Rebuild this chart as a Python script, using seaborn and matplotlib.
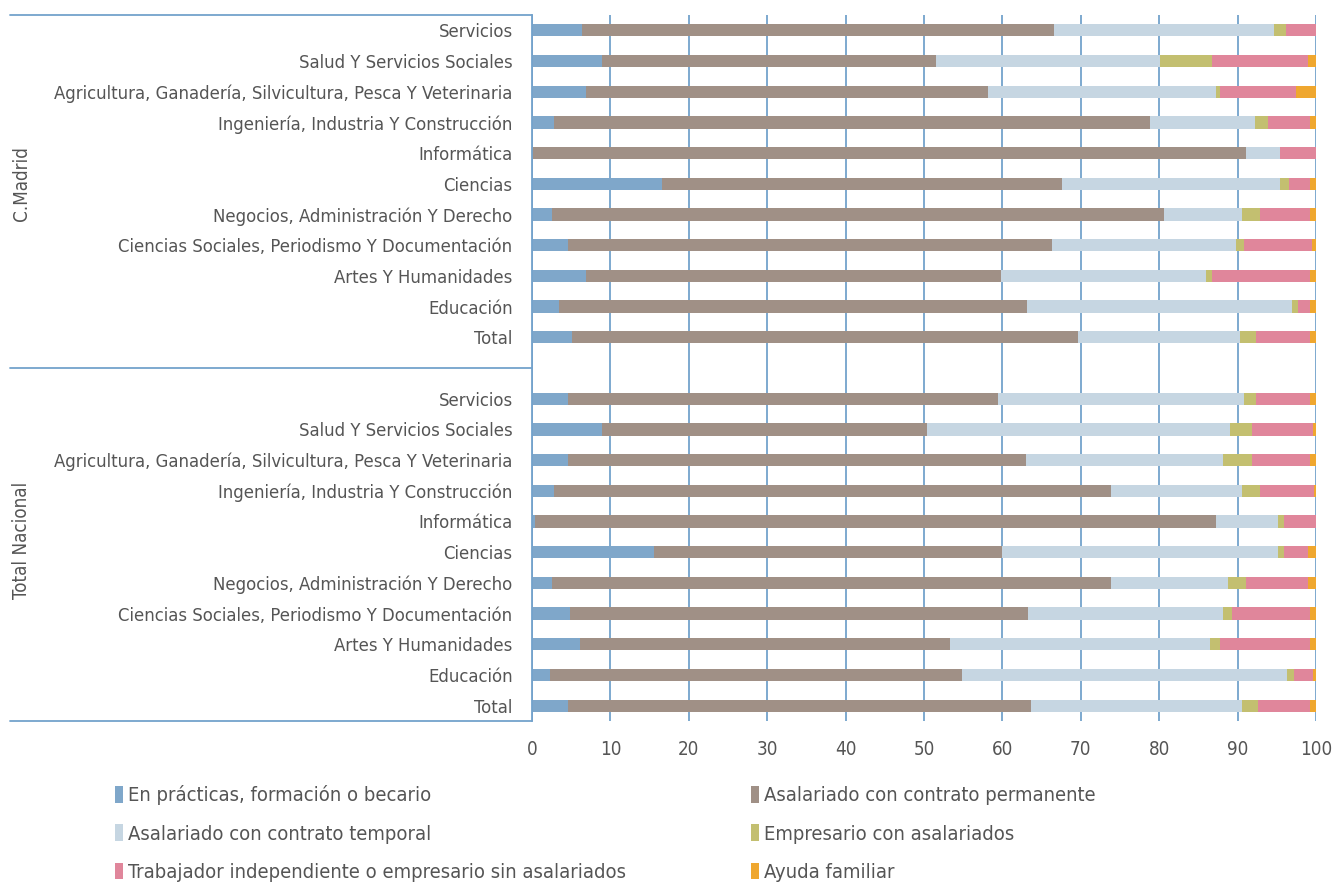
import matplotlib
matplotlib.use("Agg")
import matplotlib.pyplot as plt
import matplotlib.transforms as mtransforms
from matplotlib.patches import Patch
import numpy as np
import pandas as pd
import seaborn as sns

# row labels, top to bottom inside each group
categories = [
    "Servicios",
    "Salud Y Servicios Sociales",
    "Agricultura, Ganadería, Silvicultura, Pesca Y Veterinaria",
    "Ingeniería, Industria Y Construcción",
    "Informática",
    "Ciencias",
    "Negocios, Administración Y Derecho",
    "Ciencias Sociales, Periodismo Y Documentación",
    "Artes Y Humanidades",
    "Educación",
    "Total",
]
groups = ["C.Madrid", "Total Nacional"]

series_names = [
    "En prácticas, formación o becario",
    "Asalariado con contrato permanente",
    "Asalariado con contrato temporal",
    "Empresario con asalariados",
    "Trabajador independiente o empresario sin asalariados",
    "Ayuda familiar",
]

# first 11 values: C.Madrid, last 11: Total Nacional (same order as categories)
practicas = [6.4, 8.9, 6.9, 2.8, 0.0, 16.6, 2.5, 4.6, 6.9, 3.5, 5.1,
             4.6, 8.9, 4.6, 2.8, 0.4, 15.6, 2.5, 4.8, 6.1, 2.3, 4.6]
permanente = [60.2, 42.6, 51.2, 76.0, 91.1, 51.0, 78.1, 61.7, 52.9, 59.7, 64.6,
              54.8, 41.5, 58.4, 71.1, 86.8, 44.3, 71.4, 58.5, 47.2, 52.5, 59.0]
temporal = [28.0, 28.6, 29.1, 13.4, 4.3, 27.8, 9.9, 23.5, 26.2, 33.8, 20.6,
            31.4, 38.6, 25.2, 16.6, 8.0, 35.3, 14.9, 24.9, 33.2, 41.5, 26.9]
empresario = [1.6, 6.6, 0.5, 1.7, 0.0, 1.1, 2.3, 1.0, 0.7, 0.7, 2.0,
              1.5, 2.8, 3.6, 2.3, 0.7, 0.7, 2.3, 1.1, 1.2, 0.9, 2.1]
independiente = [3.8, 12.3, 9.7, 5.3, 4.6, 2.7, 6.4, 8.7, 12.5, 1.5, 6.9,
                 6.9, 7.8, 7.4, 7.0, 4.1, 3.1, 7.9, 9.9, 11.5, 2.4, 6.6]
ayuda = [0.0, 1.0, 2.6, 0.8, 0.0, 0.8, 0.8, 0.5, 0.8, 0.8, 0.8,
         0.8, 0.4, 0.8, 0.2, 0.0, 1.0, 1.0, 0.8, 0.8, 0.4, 0.8]

colors = ["#7fa7ca", "#a09086", "#c6d6e2", "#c3bf70", "#e0869b", "#efa72f"]
grid_blue = "#73a2cc"
text_gray = "#555555"

sns.set_style("white")
plt.rcParams["font.family"] = ["DejaVu Sans"]
plt.rcParams["font.stretch"] = "condensed"

# row positions: group 1 rows 0-10, blank row 11, group 2 rows 12-22
positions = list(range(11)) + list(range(12, 23))
df = pd.DataFrame({
    "pos": positions,
    "practicas": practicas,
    "permanente": permanente,
    "temporal": temporal,
    "empresario": empresario,
    "independiente": independiente,
    "ayuda": ayuda,
})
cols = ["practicas", "permanente", "temporal", "empresario", "independiente", "ayuda"]
cum = df[cols].cumsum(axis=1)

fig = plt.figure(figsize=(13.37, 8.88), dpi=100)
ax = fig.add_axes([532 / 1337, 1 - 721 / 888, (1316 - 532) / 1337, (721 - 15) / 888])

ax.set_axisbelow(True)
# draw cumulative totals back to front so each segment shows
for i in range(len(cols) - 1, -1, -1):
    sns.barplot(x=cum[cols[i]], y=df["pos"], orient="h", native_scale=True,
                color=colors[i], width=0.4, linewidth=0, errorbar=None,
                saturation=1, ax=ax)

ax.set_xlim(0, 100)
ax.set_ylim(22.5, -0.5)
ax.set_xticks(np.arange(0, 101, 10))
ax.set_yticks(positions)
ax.set_yticklabels(categories + categories)
ax.set_xlabel("")
ax.set_ylabel("")
ax.grid(axis="x", color=grid_blue, linewidth=1.3)
ax.grid(axis="y", visible=False)

for s in ["top", "right", "bottom"]:
    ax.spines[s].set_visible(False)
ax.spines["left"].set_color(grid_blue)
ax.spines["left"].set_linewidth(1.3)

ax.tick_params(axis="x", colors=grid_blue, labelcolor=text_gray, length=10,
               width=1.3, direction="out", pad=4, labelsize=13.5)
ax.tick_params(axis="y", length=0, labelcolor=text_gray, labelsize=13.2, pad=14)

# group separators left of the axis
trans = mtransforms.blended_transform_factory(ax.transAxes, ax.transData)
x0 = (10 - 532) / (1316 - 532)
for yy in [-0.5, 11.0, 22.5]:
    ax.plot([x0, 0], [yy, yy], color=grid_blue, linewidth=1.3,
            transform=trans, clip_on=False)

# group titles
xg = (22 - 532) / (1316 - 532)
ax.text(xg, 5, groups[0], rotation=90, va="center", ha="center",
        color=text_gray, fontsize=13.5, transform=trans)
ax.text(xg, 16.6, groups[1], rotation=90, va="center", ha="center",
        color=text_gray, fontsize=13.5, transform=trans)

handles = [Patch(facecolor=c, edgecolor="none") for c in colors]
order = [0, 2, 4, 1, 3, 5]
fig.legend([handles[i] for i in order], [series_names[i] for i in order],
           ncol=2, loc="upper left", bbox_to_anchor=(97 / 1337, 1 - 767 / 888),
           frameon=False, fontsize=14.5, labelcolor=text_gray,
           handlelength=0.4, handleheight=0.9, handletextpad=0.25,
           labelspacing=0.95, columnspacing=6.2)

fig.savefig("out.png", dpi=100)
